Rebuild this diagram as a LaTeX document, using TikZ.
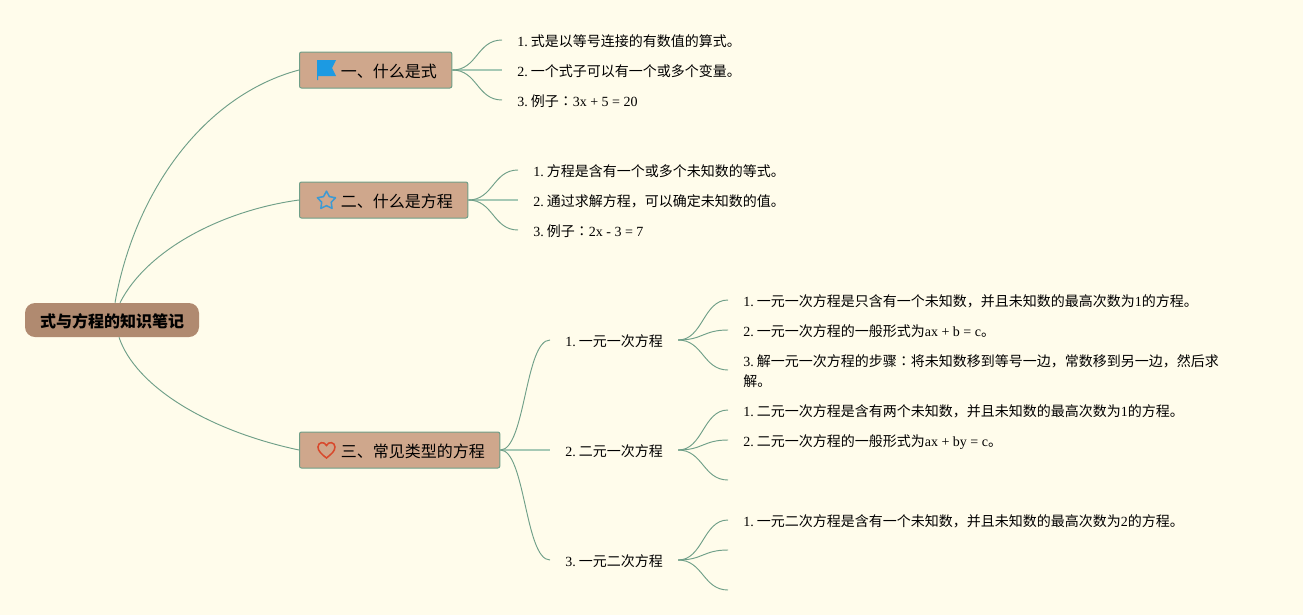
\documentclass[tikz,border=0pt]{standalone}
\usepackage{fontspec}
\setmainfont{Liberation Serif}
\newfontfamily\cjk{Noto Sans CJK SC}
\newfontfamily\cjkcolon{Noto Sans CJK TC}
\newcommand{\zh}[1]{{\cjk #1}}
\newcommand{\zhc}{{\cjkcolon ：}}
\newcommand{\itm}[1]{#1.\hspace{2.3pt}}
\newcommand{\icongap}{\hspace{19.75pt}}
\definecolor{paper}{HTML}{FFFCEB}
\definecolor{rootfill}{HTML}{B08A70}
\definecolor{boxfill}{HTML}{CFA78C}
\definecolor{linkcol}{HTML}{6F9F88}
\definecolor{flatcol}{HTML}{A6C9B5}
\definecolor{flagblue}{HTML}{1C9AE2}
\definecolor{starblue}{HTML}{3D9AD3}
\definecolor{heartred}{HTML}{D8492C}
\tikzset{
  rootbox/.style={fill=rootfill, rounded corners=7.5pt, minimum width=130.5pt, minimum height=25.5pt, inner sep=0pt, font=\fontsize{12}{14}\selectfont\bfseries, text height=11.5pt, text depth=0.5pt},
  topicbox/.style={draw=linkcol, line width=0.75pt, fill=boxfill, rounded corners=1.5pt, anchor=west, minimum height=27pt, inner ysep=0pt, inner xsep=11.25pt, font=\fontsize{12}{14}\selectfont, text height=11.5pt, text depth=0.5pt},
  itemtext/.style={anchor=west, inner xsep=11.25pt, inner ysep=0pt, align=left, font=\fontsize{10.5}{15}\selectfont, text height=10pt, text depth=1pt},
  link/.style={draw=linkcol, line width=0.7pt},
  flatlink/.style={draw=flatcol, line width=1.3pt},
}
\begin{document}
\begin{tikzpicture}[x=0.75pt, y=0.75pt]
\fill[paper] (0,0) rectangle (1303,-615);
\useasboundingbox (0,0) rectangle (1303,-615);
% centre and main topics
\node[rootbox] (root) at (112,-320) {\zh{式与方程的知识笔记}};
\node[topicbox] (one) at (299,-70) {\icongap\zh{一、什么是式}};
\node[topicbox] (two) at (299,-200) {\icongap\zh{二、什么是方程}};
\node[topicbox] (three) at (299,-450) {\icongap\zh{三、常见类型的方程}};
% first group
\node[itemtext] (oneA) at (502,-40) {\itm{1}\zh{式是以等号连接的有数值的算式。}};
\node[itemtext] (oneB) at (502,-70) {\itm{2}\zh{一个式子可以有一个或多个变量。}};
\node[itemtext] (oneC) at (502,-100) {\itm{3}\zh{例子}\zhc 3x + 5 = 20};
% second group
\node[itemtext] (twoA) at (518,-170) {\itm{1}\zh{方程是含有一个或多个未知数的等式。}};
\node[itemtext] (twoB) at (518,-200) {\itm{2}\zh{通过求解方程，可以确定未知数的值。}};
\node[itemtext] (twoC) at (518,-230) {\itm{3}\zh{例子}\zhc 2x - 3 = 7};
% third group
\node[itemtext] (linear) at (550,-340) {\itm{1}\zh{一元一次方程}};
\node[itemtext] (binary) at (550,-450) {\itm{2}\zh{二元一次方程}};
\node[itemtext] (quad) at (550,-560) {\itm{3}\zh{一元二次方程}};
\node[itemtext] (linearA) at (728,-300) {\itm{1}\zh{一元一次方程是只含有一个未知数，并且未知数的最高次数为}1\zh{的方程。}};
\node[itemtext] (linearB) at (728,-330) {\itm{2}\zh{一元一次方程的一般形式为}ax + b = c\zh{。}};
\node[itemtext, anchor=north west] (linearC) at (728,-373) {\itm{3}\zh{解一元一次方程的步骤}\zhc\zh{将未知数移到等号一边，常数移到另一边，然后求}\\\zh{解。}};
\coordinate (linearEnd) at (728,-370);
\node[itemtext] (binaryA) at (728,-410) {\itm{1}\zh{二元一次方程是含有两个未知数，并且未知数的最高次数为}1\zh{的方程。}};
\node[itemtext] (binaryB) at (728,-440) {\itm{2}\zh{二元一次方程的一般形式为}ax + by = c\zh{。}};
\coordinate (binaryEnd) at (728,-480);
\node[itemtext] (quadA) at (728,-520) {\itm{1}\zh{一元二次方程是含有一个未知数，并且未知数的最高次数为}2\zh{的方程。}};
\coordinate (quadB) at (728,-550);
\coordinate (quadC) at (728,-590);
% icons
\fill[flagblue, shift={(one.west)}] (18,10) -- (37,10) -- (33,2) -- (37,-6) -- (19,-6) -- (19,-10) -- (18,-10) -- cycle;
\draw[starblue, line width=1.15pt, line join=round, shift={(two.west)}, xshift=20.6pt, yshift=-0.5pt] (90:9.5) -- (126:5) -- (162:9.5) -- (198:5) -- (234:9.5) -- (270:5) -- (306:9.5) -- (342:5) -- (18:9.5) -- (54:5) -- cycle;
\draw[heartred, line width=1.15pt, shift={(three.west)}, xshift=20.6pt] (0,-8) .. controls (-5,-4) and (-8.5,-1) .. (-8.5,3) .. controls (-8.5,8) and (-2,9) .. (0,4.5) .. controls (2,9) and (8.5,8) .. (8.5,3) .. controls (8.5,-1) and (5,-4) .. (0,-8) -- cycle;
% connectors
\draw[link] ([shift={(3,0)}]root.north) .. controls (135,-190) and (205,-95) .. (one.west);
\draw[link] ([shift={(8,0)}]root.north) .. controls (148,-248) and (225,-210) .. (two.west);
\draw[link] ([shift={(7,0)}]root.south) .. controls (135,-385) and (205,-430) .. (three.west);
\foreach \from/\to in {one/oneB,two/twoB,three/binary}
  \draw[flatlink] (\from.east) -- (\to.west);
\foreach \from/\to in {one/oneA,one/oneC,two/twoA,two/twoC,three/linear,three/quad}
  \draw[link] (\from.east) .. controls +(25,0) and +(-25,0) .. (\to.west);
\foreach \from/\to in {linear/linearA,linear/linearB,binary/binaryA,binary/binaryB,quad/quadA}
  \draw[link] (\from.east) .. controls +(25,0) and +(-25,0) .. (\to.west);
\foreach \from/\to in {linear/linearEnd,binary/binaryEnd,quad/quadB,quad/quadC}
  \draw[link] (\from.east) .. controls +(25,0) and +(-25,0) .. (\to);
\end{tikzpicture}
\end{document}
